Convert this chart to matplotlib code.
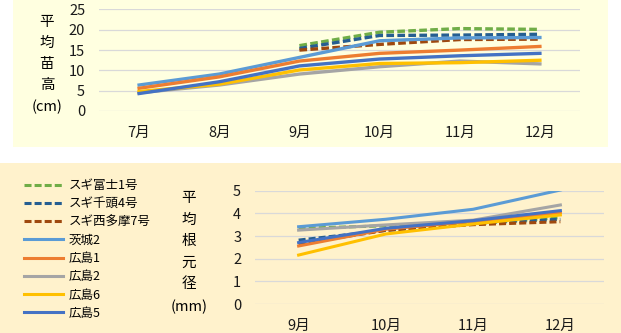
import matplotlib.pyplot as plt
from matplotlib.patches import Rectangle
import numpy as np

plt.rcParams['font.family'] = ['Noto Sans CJK JP', 'DejaVu Sans']

# 月
months_top = ['7月', '8月', '9月', '10月', '11月', '12月']
months_bottom = ['9月', '10月', '11月', '12月']

# 系統名と色、線種
names = ['スギ富士1号', 'スギ千頭4号', 'スギ西多摩7号', '茨城2', '広島1', '広島2', '広島6', '広島5']
colors = ['#70AD47', '#255E91', '#9E480E', '#5B9BD5', '#ED7D31', '#A5A5A5', '#FFC000', '#4472C4']
dashed = [True, True, True, False, False, False, False, False]

nan = np.nan
# 平均苗高 (cm)
height = [
    [nan, nan, 16.1, 19.4, 20.3, 20.1],
    [nan, nan, 15.4, 18.6, 18.7, 18.9],
    [nan, nan, 15.0, 16.4, 17.6, 17.7],
    [6.4, 9.1, 13.2, 17.3, 18.0, 18.1],
    [5.6, 8.4, 12.3, 14.2, 15.0, 15.9],
    [4.5, 6.4, 9.1, 10.9, 12.3, 11.6],
    [4.8, 6.6, 10.1, 11.7, 11.9, 12.5],
    [4.3, 7.2, 11.1, 12.8, 13.6, 14.2],
]

# 平均根元径 (mm)
diameter = [
    [3.34, 3.45, 3.55, 3.81],
    [2.82, 3.25, 3.55, 3.74],
    [2.65, 3.25, 3.50, 3.63],
    [3.41, 3.74, 4.18, 5.03],
    [2.56, 3.30, 3.65, 4.03],
    [3.26, 3.49, 3.70, 4.37],
    [2.16, 3.09, 3.53, 3.93],
    [2.71, 3.34, 3.68, 4.12],
]

W, H = 621, 333
fig = plt.figure(figsize=(W / 100, H / 100), dpi=100)

# 背景パネル
fig.patches.append(Rectangle((13 / W, 1 - 147 / H), 595 / W, 147 / H, transform=fig.transFigure,
                             facecolor='#FFFFE0', edgecolor='none', zorder=-5))
fig.patches.append(Rectangle((0, 0), 1, 1 - 163 / H, transform=fig.transFigure,
                             facecolor='#FFF2CC', edgecolor='none', zorder=-5))


def setup(ax, labels, ymax, step):
    ax.set_facecolor('none')
    for s in ax.spines.values():
        s.set_visible(False)
    ax.set_xlim(-0.5, len(labels) - 0.5)
    ax.set_ylim(0, ymax)
    ax.set_xticks(range(len(labels)))
    ax.set_xticklabels(labels)
    ax.set_yticks(np.arange(0, ymax + 0.1, step))
    ax.yaxis.grid(True, color='#D9D9D9', lw=0.9)
    ax.set_axisbelow(True)
    ax.tick_params(axis='both', length=0, labelsize=10.5, colors='#1a1a1a')
    ax.tick_params(axis='x', pad=11)
    ax.tick_params(axis='y', pad=10)


ax1 = fig.add_axes([99 / W, 1 - 111 / H, 481 / W, 101.5 / H])
setup(ax1, months_top, 25, 5)
ax1.set_yticklabels([str(v) for v in range(0, 26, 5)])
for vals, c, d in zip(height, colors, dashed):
    if d:
        ax1.plot(range(6), vals, color=c, lw=2.4, ls=(0, (2.3, 1.0)))
    else:
        ax1.plot(range(6), vals, color=c, lw=2.4)

ax2 = fig.add_axes([255 / W, 1 - 304 / H, 349 / W, 113.3 / H])
setup(ax2, months_bottom, 5, 1)
ax2.set_yticklabels([str(v) for v in range(0, 6)])
lines = []
for vals, c, d, n in zip(diameter, colors, dashed, names):
    if d:
        ln, = ax2.plot(range(4), vals, color=c, lw=2.2, ls=(0, (2.3, 1.0)), label=n)
    else:
        ln, = ax2.plot(range(4), vals, color=c, lw=2.2, label=n)
    lines.append(ln)

fig.legend(handles=lines, loc='upper left', bbox_to_anchor=(24 / W, 1 - 179 / H),
           frameon=False, fontsize=9, handlelength=3.1, handletextpad=0.45,
           labelspacing=0.42, borderpad=0, borderaxespad=0)

# 縦書きの軸ラベル
for i, ch in enumerate(['平', '均', '苗', '高']):
    fig.text(47 / W, 1 - (22 + 21 * i) / H, ch, ha='center', va='center', fontsize=10.5)
fig.text(47 / W, 1 - 107 / H, '(cm)', ha='center', va='center', fontsize=10.5)

for i, ch in enumerate(['平', '均', '根', '元', '径']):
    fig.text(189 / W, 1 - (198 + 21.5 * i) / H, ch, ha='center', va='center', fontsize=10.5)
fig.text(189 / W, 1 - 307 / H, '(mm)', ha='center', va='center', fontsize=10.5)

fig.savefig('out.png', dpi=100)
